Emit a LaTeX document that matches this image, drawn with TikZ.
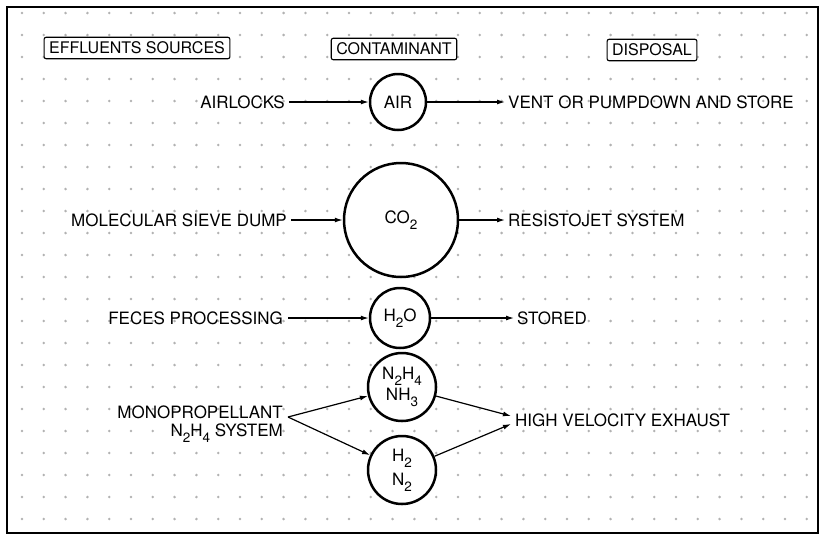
\documentclass[tikz,border=0pt]{standalone}
\usepackage{fontspec}
\setmainfont{TeX Gyre Heros}
\usetikzlibrary{arrows.meta}
\newcommand\sbs[1]{\raisebox{-0.34em}{\fontsize{13.5}{13.5}\selectfont #1}}
\begin{document}
\begin{tikzpicture}[x=1pt,y=-1pt,
  lbl/.style={font=\fontsize{17}{17}\selectfont, inner sep=0pt, text height=12.2pt, text depth=0pt},
  hdr/.style={draw, rounded corners=2pt, line width=1.1pt, fill=white, font=\fontsize{16}{16}\selectfont, inner xsep=5pt, inner ysep=5pt, text height=11.5pt, text depth=0pt},
  blob/.style={circle, draw, line width=2.5pt, fill=white, inner sep=0pt, font=\fontsize{17}{21}\selectfont, align=center},
  conn/.style={line width=1.2pt, -{Latex[length=8pt,width=5pt]}},
  dotc/.style={fill=gray!60},
  ]
\useasboundingbox (0,0) rectangle (826,539);
\foreach \j in {0,...,23} \foreach \i in {0,...,36} \fill[dotc] (22+21.8*\i, 13+22*\j) circle (1.4pt);
\draw[line width=1.4pt] (7,7) rectangle (818,533);
% headers
\node[hdr] (hsrc) at (137,48) {EFFLUENTS SOURCES};
\node[hdr] (hcon) at (394,49) {CONTAMINANT};
\node[hdr] (hdis) at (652,50) {DISPOSAL};
% contaminants
\node[blob, minimum size=56pt] (air) at (398,102) {AIR};
\node[blob, minimum size=114pt] (co2) at (401,220) {CO\sbs{2}};
\node[blob, minimum size=60pt] (h2o) at (400,318) {H\sbs{2}O};
\node[blob, minimum size=68pt] (n2h4) at (402,387) {N\sbs{2}H\sbs{4}\\NH\sbs{3}};
\node[blob, minimum size=68pt, font=\fontsize{17}{24}\selectfont] (h2n2) at (402,470) {H\sbs{2}\\N\sbs{2}};
% sources
\node[lbl, anchor=east] (airlocks) at (285,102) {AIRLOCKS};
\node[lbl, anchor=east] (mol) at (287,220) {MOLECULAR SIEVE DUMP};
\node[lbl, anchor=east] (fec) at (283,318) {FECES PROCESSING};
\node[anchor=east, align=right, inner sep=0pt, font=\fontsize{17}{18}\selectfont] (mono) at (283,424) {MONOPROPELLANT\\N\sbs{2}H\sbs{4} SYSTEM};
% disposal
\node[lbl, anchor=west] (vent) at (508,102) {VENT OR PUMPDOWN AND STORE};
\node[lbl, anchor=west] (resi) at (508,220) {RESISTOJET SYSTEM};
\node[lbl, anchor=west] (stor) at (517,318) {STORED};
\node[lbl, anchor=west] (hve) at (515,420) {HIGH VELOCITY EXHAUST};
% connectors
\draw[conn, shorten <=4pt] (airlocks.east) -- (air.west);
\draw[conn, shorten <=4pt] (mol.east) -- (co2.west);
\draw[conn, shorten <=5pt] (fec.east) -- (h2o.west);
\draw[conn, shorten >=3pt] (air.east) -- (vent.west);
\draw[conn, shorten >=3pt] (co2.east) -- (resi.west);
\draw[conn, shorten >=3pt] (h2o.east) -- (stor.west);
\coordinate (mp) at (288,417);
\draw[conn] (mp) -- (n2h4);
\draw[conn] (mp) -- (h2n2);
\coordinate (hv1) at (511,416);
\coordinate (hv2) at (511,424);
\draw[conn] (n2h4) -- (hv1);
\draw[conn] (h2n2) -- (hv2);
\end{tikzpicture}
\end{document}
